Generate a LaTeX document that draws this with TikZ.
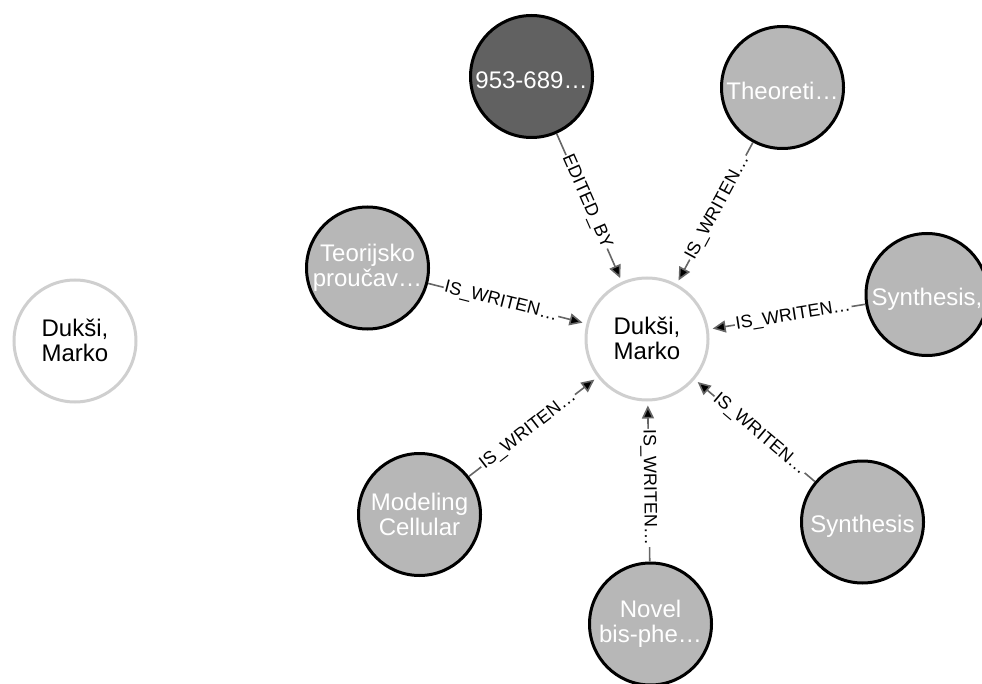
\documentclass[tikz,border=0pt]{standalone}
\usepackage{fontspec}
\setmainfont{Liberation Sans}
\usetikzlibrary{arrows.meta,quotes}
\definecolor{authorrim}{HTML}{CFCFCF}
\definecolor{workfill}{HTML}{B7B7B7}
\definecolor{isbnfill}{HTML}{616161}
\definecolor{relgray}{HTML}{666666}

\begin{document}
\begin{tikzpicture}[x=1pt,y=-1pt,
        author/.style={circle,minimum size=122pt,inner sep=0pt,line width=3pt,
            draw=authorrim,fill=white,align=center,font=\fontsize{24}{25}\selectfont,
            execute at begin node={\rule{0pt}{26pt}},
            execute at end node={\rule[-1pt]{0pt}{1pt}}},
        work/.style={author,draw=black,fill=workfill,text=white},
        isbn/.style={work,fill=isbnfill},
        rel/.style={draw=relgray,line width=1.6pt,-{Triangle[length=13pt,width=12pt]},shorten >=4pt},
        every edge quotes/.style={sloped,pos=0.46,fill=white,inner sep=1pt,text=black,
            font=\fontsize{18}{18}\selectfont}]
    \useasboundingbox (0,0) rectangle (982,684);
    \clip (0,0) rectangle (982,684);
    % authors
    \node[author] (marko) at (647,339) {Dukši,\\Marko};
    \node[author] (markoalone) at (75,341) {Dukši,\\Marko};
    % works round the author
    \node[isbn] (isbn) at (531.5,76.5) {953-689…};
    \node[work] (theo) at (782.5,87.5) {Theoreti…};
    \node[work] (teor) at (367.5,268) {Teorijsko\\proučav…};
    \node[work] (synthb) at (927,294.5) {Synthesis,};
    \node[work] (synth) at (862.5,522) {Synthesis};
    \node[work] (model) at (419.5,514.5) {Modeling\\Cellular};
    \node[work] (novel) at (650.5,624) {Novel\\bis-phe…};
    % relations
    \path[rel] (isbn) edge["EDITED\_BY"] (marko)
        (theo) edge["IS\_WRITEN…"] (marko)
        (teor) edge["IS\_WRITEN…"] (marko)
        (synthb) edge["IS\_WRITEN…"] (marko)
        (synth) edge["IS\_WRITEN…"] (marko)
        (model) edge["IS\_WRITEN…"] (marko)
        (novel) edge["IS\_WRITEN…"] (marko);
\end{tikzpicture}
\end{document}
